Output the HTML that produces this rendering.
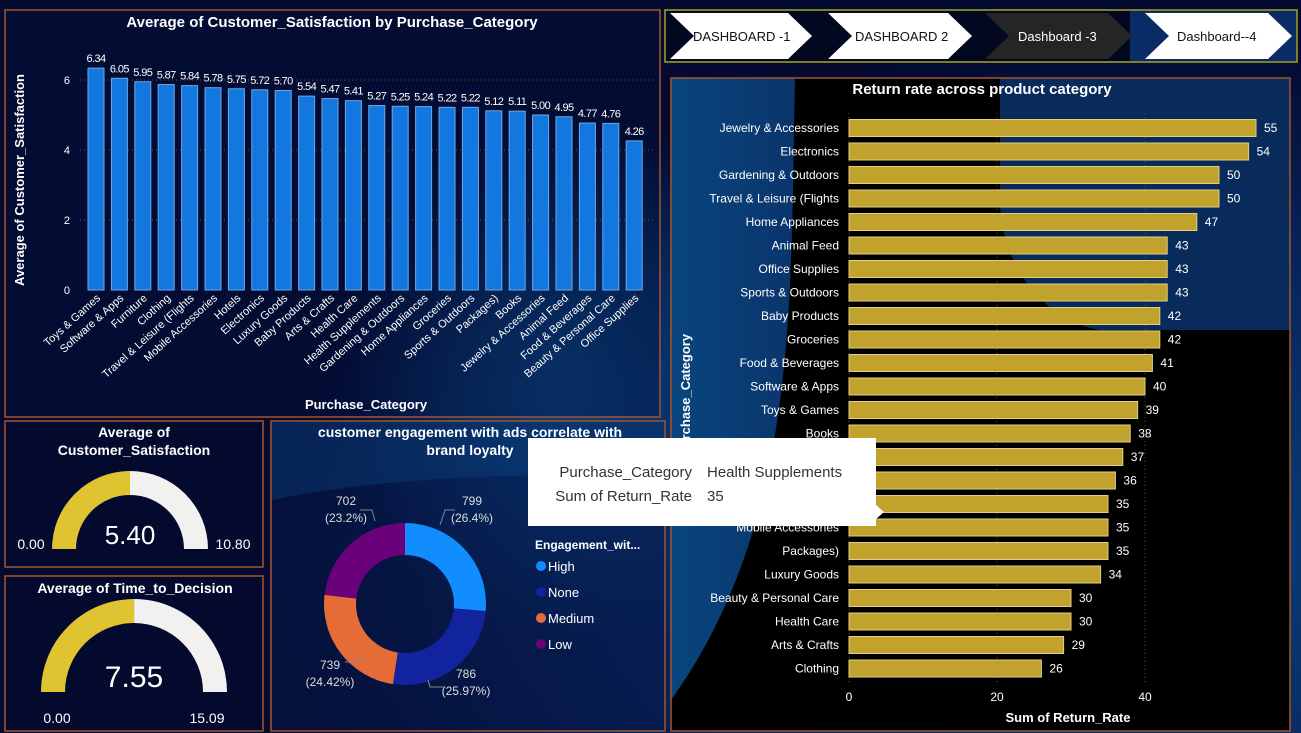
<!DOCTYPE html>
<html><head><meta charset="utf-8"><style>
html,body{margin:0;padding:0;width:1301px;height:733px;overflow:hidden;background:#040a30;font-family:"Liberation Sans",sans-serif}
svg{display:block}
</style></head><body>
<svg width="1301" height="733" xmlns="http://www.w3.org/2000/svg">
<defs>
<radialGradient id="bgL" cx="0.9" cy="0.75" r="0.7"><stop offset="0" stop-color="#0d4a8a"/><stop offset="0.6" stop-color="#082a63"/><stop offset="1" stop-color="#040a30"/></radialGradient>
<linearGradient id="blueR" x1="0" y1="0" x2="1" y2="0"><stop offset="0" stop-color="#0a4d8c"/><stop offset="1" stop-color="#0b3a78"/></linearGradient>
<radialGradient id="sw" cx="0.5" cy="0.5" r="0.5"><stop offset="0" stop-color="#0c4a8a" stop-opacity="0.8"/><stop offset="1" stop-color="#0c4a8a" stop-opacity="0"/></radialGradient>
</defs>
<rect width="1301" height="733" fill="#040a30"/>
<path d="M0,0 L1301,0 L1301,733 L0,733Z" fill="url(#bgL)" opacity="0.8"/>
<ellipse cx="560" cy="380" rx="220" ry="260" fill="url(#sw)"/>

<g>
<rect x="5" y="10" width="655" height="407" fill="#041038" fill-opacity="0.35" stroke="#a4552c" stroke-width="1.5"/>
<text x="332" y="27" text-anchor="middle" fill="#fff" font-size="15" font-weight="bold">Average of Customer_Satisfaction by Purchase_Category</text>
<text transform="translate(24,180) rotate(-90)" text-anchor="middle" fill="#fff" font-size="13" font-weight="bold">Average of Customer_Satisfaction</text>
<text x="366" y="409" text-anchor="middle" fill="#fff" font-size="13" font-weight="bold">Purchase_Category</text>
<g id="barChart"></g>
</g>

<g>
<rect x="665" y="10" width="632" height="52" fill="#020820" stroke="#a5a52a" stroke-width="1.5"/>
<rect x="1130" y="11" width="166" height="50" fill="#0a2c66"/>
<polygon points="670,13 788,13 812,36 788,59 670,59 694,36" fill="#fff"/>
<text x="693" y="41" fill="#111" font-size="13">DASHBOARD -1</text>
<polygon points="828,13 948,13 972,36 948,59 828,59 852,36" fill="#fff"/>
<text x="855" y="41" fill="#111" font-size="13">DASHBOARD 2</text>
<polygon points="985,13 1108,13 1132,36 1108,59 985,59 1009,36" fill="#252525"/>
<text x="1018" y="41" fill="#fff" font-size="13">Dashboard -3</text>
<polygon points="1145,13 1268,13 1292,36 1268,59 1145,59 1169,36" fill="#fff"/>
<text x="1177" y="41" fill="#111" font-size="13">Dashboard--4</text>
</g>

<g>
<rect x="671" y="78" width="619" height="653" fill="#000"/>
<path d="M671,78 L795,78 C790,300 800,520 671,700 Z" fill="url(#blueR)" opacity="0.9"/>
<path d="M1000,78 L1290,78 L1290,330 L1100,330 C1040,320 1000,260 1000,200 Z" fill="#0b3a7a" opacity="0.75"/>
<rect x="671" y="78" width="619" height="653" fill="none" stroke="#a4552c" stroke-width="1.5"/>
<text x="982" y="94" text-anchor="middle" fill="#fff" font-size="15" font-weight="bold">Return rate across product category</text>
<text transform="translate(690,395) rotate(-90)" text-anchor="middle" fill="#fff" font-size="13" font-weight="bold">Purchase_Category</text>
<text x="1068" y="722" text-anchor="middle" fill="#fff" font-size="13" font-weight="bold">Sum of Return_Rate</text>
<g id="hbarChart"></g>
</g>

<g>
<rect x="5" y="421" width="258" height="146" fill="#030a2e" stroke="#a4552c" stroke-width="1.5"/>
<text x="134" y="437" text-anchor="middle" fill="#fff" font-size="14" font-weight="bold">Average of</text>
<text x="134" y="455" text-anchor="middle" fill="#fff" font-size="14" font-weight="bold">Customer_Satisfaction</text>
<g id="gauge1"></g>
</g>
<g>
<rect x="5" y="576" width="258" height="155" fill="#030a2e" stroke="#a4552c" stroke-width="1.5"/>
<text x="135" y="593" text-anchor="middle" fill="#fff" font-size="14" font-weight="bold">Average of Time_to_Decision</text>
<g id="gauge2"></g>
</g>

<g>
<rect x="271" y="421" width="394" height="310" fill="#06184a" fill-opacity="0.45" stroke="#a4552c" stroke-width="1.5"/>
<path d="M272,422 L664,422 L664,470 C560,478 420,470 272,500 Z" fill="#0c4a8a" opacity="0.35"/>
<text x="470" y="437" text-anchor="middle" fill="#fff" font-size="14" font-weight="bold">customer engagement with ads correlate with</text>
<text x="470" y="455" text-anchor="middle" fill="#fff" font-size="14" font-weight="bold">brand loyalty</text>
<g id="donut"></g>
<text x="535" y="549" fill="#fff" font-size="12" font-weight="bold">Engagement_wit...</text>
<g id="legend"></g>
</g>

<g>
<polygon points="528,438 876,438 876,505 884,512 876,519 876,526 528,526" fill="#fff"/>
<text x="692" y="477" text-anchor="end" fill="#333" font-size="15">Purchase_Category</text>
<text x="707" y="477" fill="#333" font-size="15">Health Supplements</text>
<text x="692" y="501" text-anchor="end" fill="#333" font-size="15">Sum of Return_Rate</text>
<text x="707" y="501" fill="#333" font-size="15">35</text>
</g>
</svg>
<script>
const NS="http://www.w3.org/2000/svg";
function mk(tag,attrs,parent,txt){const e=document.createElementNS(NS,tag);for(const k in attrs)e.setAttribute(k,attrs[k]);if(txt!==undefined)e.textContent=txt;parent.appendChild(e);return e;}

// ---- Satisfaction bar chart data
const satCategories=["Toys & Games","Software & Apps","Furniture","Clothing","Travel & Leisure (Flights","Mobile Accessories","Hotels","Electronics","Luxury Goods","Baby Products","Arts & Crafts","Health Care","Health Supplements","Gardening & Outdoors","Home Appliances","Groceries","Sports & Outdoors","Packages)","Books","Jewelry & Accessories","Animal Feed","Food & Beverages","Beauty & Personal Care","Office Supplies"];
const satValues=[6.34,6.05,5.95,5.87,5.84,5.78,5.75,5.72,5.70,5.54,5.47,5.41,5.27,5.25,5.24,5.22,5.22,5.12,5.11,5.00,4.95,4.77,4.76,4.26];
const satTicks=[0,2,4,6];

// ---- Return rate data
const retCategories=["Jewelry & Accessories","Electronics","Gardening & Outdoors","Travel & Leisure (Flights","Home Appliances","Animal Feed","Office Supplies","Sports & Outdoors","Baby Products","Groceries","Food & Beverages","Software & Apps","Toys & Games","Books","Furniture","Hotels","Health Supplements","Mobile Accessories","Packages)","Luxury Goods","Beauty & Personal Care","Health Care","Arts & Crafts","Clothing"];
const retValues=[55,54,50,50,47,43,43,43,42,42,41,40,39,38,37,36,35,35,35,34,30,30,29,26];
const retTicks=[0,20,40];

// ---- Donut data
const engLabels=["High","None","Medium","Low"];
const engValues=[799,786,739,702];
const engPctLabels=["26.4%","25.97%","24.42%","23.2%"];
const engColors=["#118dff","#12239e","#e66c37","#6b007b"];

// ---- Gauges
const gauge1Value=5.40, gauge1Min=0, gauge1Max=10.80;
const gauge2Value=7.55, gauge2Min=0, gauge2Max=15.09;

// Bar chart
(function(){
 const g=document.getElementById('barChart');
 const y0=290, pxPer=35, x0=84, step=23.4, bw=16;
 const y=v=>y0-v*pxPer;
 const xc=i=>x0+12+i*step;
 satTicks.forEach(t=>{
  if(t>0){const l=mk('line',{x1:80,x2:655,y1:y(t),y2:y(t),stroke:'#8a4a2a','stroke-dasharray':'1,3'},g);
  
  }
  const tx=mk('text',{x:70,y:y(t)+4,'text-anchor':'end',fill:'#fff','font-size':11},g,String(t));
  
  
 });
 satCategories.forEach((c,i)=>{
  const v=satValues[i];
  const r=mk('rect',{x:xc(i)-bw/2,y:y(v),width:bw,height:v*pxPer,fill:'#1377e0',stroke:'#6fa6e6','stroke-width':1},g);
  
  
  const lb=mk('text',{x:xc(i),y:y(v)-6,'text-anchor':'middle',fill:'#fff','font-size':11,'letter-spacing':'-0.6'},g,v.toFixed(2));
  
  
  const cl=mk('text',{x:xc(i)+5,y:y0+9,'text-anchor':'end',fill:'#fff','font-size':11,transform:`rotate(-42 ${xc(i)+5} ${y0+9})`},g,c);
  
  
 });
})();

// Horizontal bar chart
(function(){
 const g=document.getElementById('hbarChart');
 const x0=849, pxPer=7.4, y0=128, step=23.5, bh=17;
 const x=v=>x0+v*pxPer;
 retTicks.forEach(t=>{
  const l=mk('line',{x1:x(t),x2:x(t),y1:113,y2:683,stroke:'#8a4a2a','stroke-dasharray':'1,3'},g);
  
  
  const tx=mk('text',{x:x(t),y:701,'text-anchor':'middle',fill:'#fff','font-size':12},g,String(t));
  
  
 });
 retCategories.forEach((c,i)=>{
  const v=retValues[i], yc=y0+i*step;
  const r=mk('rect',{x:x0,y:yc-bh/2,width:v*pxPer,height:bh,fill:'#c1a22d',stroke:'#e0cf85','stroke-width':1},g);
  
  
  const lb=mk('text',{x:x(v)+8,y:yc+4,fill:'#fff','font-size':12},g,String(v));
  
  
  const cl=mk('text',{x:839,y:yc+4,'text-anchor':'end',fill:'#fff','font-size':12},g,c);
  
  
 });
})();

// Gauges
function gauge(id,cx,cy,ro,ri,val,mn,mx,fs,minX,maxX,labY){
 const g=document.getElementById(id);
 const f=(val-mn)/(mx-mn);
 const arc=(a0,a1,col,name)=>{
  const p=(a,r)=>[cx-r*Math.cos(a),cy-r*Math.sin(a)];
  const [x1,y1]=p(a0,ro),[x2,y2]=p(a1,ro),[x3,y3]=p(a1,ri),[x4,y4]=p(a0,ri);
  const e=mk('path',{d:`M${x1},${y1} A${ro},${ro} 0 0 1 ${x2},${y2} L${x3},${y3} A${ri},${ri} 0 0 0 ${x4},${y4}Z`,fill:col},g);
  
  
 };
 arc(0,Math.PI*f,'#e0c330','gauge-fill');
 arc(Math.PI*f,Math.PI,'#f2f1ef','gauge-remainder');
 const t=mk('text',{x:cx,y:cy-5,'text-anchor':'middle',fill:'#fff','font-size':fs},g,val.toFixed(2));
 
 
 const a=mk('text',{x:minX,y:labY,'text-anchor':'middle',fill:'#fff','font-size':14},g,mn.toFixed(2));
 
 
 const b=mk('text',{x:maxX,y:labY,'text-anchor':'middle',fill:'#fff','font-size':14},g,mx.toFixed(2));
 
 
}
gauge('gauge1',130,549,78,54,gauge1Value,gauge1Min,gauge1Max,26,31,233,549);
gauge('gauge2',134,692,93,69,gauge2Value,gauge2Min,gauge2Max,30,57,207,723);

// Donut
(function(){
 const g=document.getElementById('donut');
 const cx=405,cy=604,ro=81,ri=49;
 const tot=engValues.reduce((a,b)=>a+b,0);
 let a=0;
 const lpos=[[472,505],[466,678],[330,669],[346,505]];
 const leaders=[[[440,525],[445,510],[455,510]],[[428,680],[430,687],[445,687]],[[365,655],[357,662],[345,662]],[[375,521],[372,510],[360,510]]];
 engValues.forEach((v,i)=>{
  const a1=a+v/tot*2*Math.PI;
  const p=(ang,r)=>[cx+r*Math.sin(ang),cy-r*Math.cos(ang)];
  const [x1,y1]=p(a,ro),[x2,y2]=p(a1,ro),[x3,y3]=p(a1,ri),[x4,y4]=p(a,ri);
  const large=(a1-a)>Math.PI?1:0;
  const s=mk('path',{d:`M${x1},${y1} A${ro},${ro} 0 ${large} 1 ${x2},${y2} L${x3},${y3} A${ri},${ri} 0 ${large} 0 ${x4},${y4}Z`,fill:engColors[i]},g);
  
  
  const ln=mk('polyline',{points:leaders[i].map(p=>p.join(',')).join(' '),fill:'none',stroke:'#888','stroke-width':1},g);
  
  
  const [lx,ly]=lpos[i];
  const t1=mk('text',{x:lx,y:ly,'text-anchor':'middle',fill:'#ddd','font-size':12},g,String(v));
  
  
  const t2=mk('text',{x:lx,y:ly+17,'text-anchor':'middle',fill:'#ddd','font-size':12},g,'('+engPctLabels[i]+')');
  
  
  a=a1;
 });
 const lg=document.getElementById('legend');
 engLabels.forEach((l,i)=>{
  const yy=566+i*26;
  const c=mk('circle',{cx:541,cy:yy,r:5,fill:engColors[i]},lg);
  
  
  const t=mk('text',{x:548,y:yy+5,fill:'#fff','font-size':13},lg,l);
  
  
 });
})();
</script>
</body></html>
